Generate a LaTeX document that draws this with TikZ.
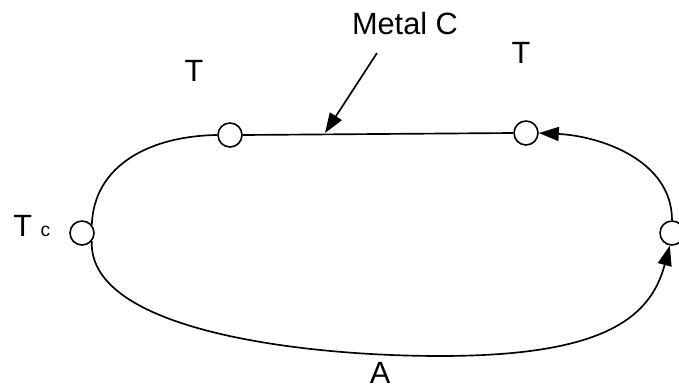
\documentclass[tikz,border=0pt]{standalone}
\usepackage{fontspec}
\setmainfont{Liberation Sans}
\usetikzlibrary{arrows.meta}
\tikzset{
  junc/.style={circle, draw, inner sep=0pt, minimum size=0.48cm, line width=0.9pt},
  lbl/.style={font=\fontsize{17.5}{21}\selectfont, inner sep=0pt},
  wire/.style={line width=0.95pt},
  tip/.style={-{Triangle[length=0.4cm,width=0.28cm]}}
}
\begin{document}
\begin{tikzpicture}[x=0.02cm, y=-0.02cm]
\useasboundingbox (0,0) rectangle (679,389);
% junctions
\node[junc] (tl) at (230,135) {};
\node[junc] (tr) at (526,133) {};
\node[junc] (lc) at (82,233) {};
\node[junc] (rc) at (672,233) {};
% labels
\node[lbl] (metal) at (405,24) {Metal C};
\node[lbl] (tleft) at (194,71) {T};
\node[lbl] (tright) at (521,53) {T};
\node[lbl, anchor=base west] (tcold) at (13,236) {T {\fontsize{11}{13}\selectfont c}};
\node[lbl] (alab) at (380,373) {A};
\coordinate (lead) at (377,53);
\coordinate (hit) at (325,133);
\coordinate (bot) at (440,356);
% metal C
\draw[wire] (tl.east) -- (tr.west);
\draw[wire] (lc.40) .. controls (94,165) and (150,136) .. (tl.west);
\draw[wire, tip] (rc.north) .. controls (672,160) and (600,136) .. (tr.east);
% metal A
\draw[wire] (lc.-40) .. controls (88,330) and (300,356) .. (bot);
\draw[wire, tip] (bot) .. controls (600,356) and (650,320) .. (rc.-100);
% leader
\draw[wire, tip] (lead) -- (hit);
\end{tikzpicture}
\end{document}
